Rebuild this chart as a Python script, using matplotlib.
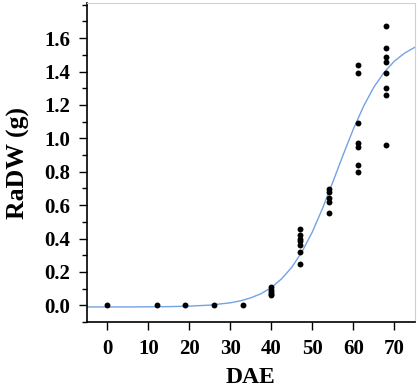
import matplotlib
matplotlib.use("Agg")
import matplotlib.pyplot as plt
from matplotlib.ticker import MultipleLocator

# Observed data (DAE, RaDW)
obs_x = [0, 12, 19, 26, 33,
         40, 40, 40, 40, 40,
         47, 47, 47, 47, 47, 47, 47,
         54, 54, 54, 54, 54,
         61, 61, 61, 61, 61, 61, 61,
         68, 68, 68, 68, 68, 68, 68, 68]
obs_y = [0.0, 0.0, 0.0, 0.0, 0.0,
         0.11, 0.09, 0.08, 0.07, 0.06,
         0.46, 0.42, 0.40, 0.385, 0.36, 0.32, 0.25,
         0.695, 0.68, 0.64, 0.62, 0.55,
         1.44, 1.39, 1.09, 0.97, 0.95, 0.84, 0.80,
         1.67, 1.54, 1.49, 1.46, 1.39, 1.30, 1.26, 0.96]

# Fitted curve
curve_x = [-5, 0, 5, 10, 15, 20, 25, 30, 32.5, 35, 37.5, 40, 42.5, 45, 47.5,
           50, 52.5, 55, 57.5, 60, 62.5, 65, 67.5, 70, 72.5, 75]
curve_y = [-0.010, -0.010, -0.010, -0.009, -0.008, -0.005, 0.001, 0.015, 0.027,
           0.045, 0.070, 0.107, 0.159, 0.229, 0.323, 0.441, 0.583, 0.740, 0.902,
           1.057, 1.194, 1.308, 1.396, 1.463, 1.511, 1.546]

x_ticks = [0, 10, 20, 30, 40, 50, 60, 70]
y_ticks = [0.0, 0.2, 0.4, 0.6, 0.8, 1.0, 1.2, 1.4, 1.6]

plt.rcParams['font.family'] = ['Liberation Serif', 'DejaVu Serif']
plt.rcParams['font.weight'] = 'bold'

fig = plt.figure(figsize=(4.2, 3.91), dpi=100)
ax = fig.add_axes([0.207, 0.1765, 0.781, 0.8155])

ax.plot(curve_x, curve_y, color='#74a2e6', linewidth=1.0, zorder=2)
ax.scatter(obs_x, obs_y, s=18, color='black', zorder=3, linewidths=0)

ax.set_xlim(-5, 75)
ax.set_ylim(-0.1, 1.81)
ax.set_xticks(x_ticks)
ax.set_yticks(y_ticks)
ax.set_yticklabels([f"{v:.1f}" for v in y_ticks])
ax.yaxis.set_minor_locator(MultipleLocator(0.1))

ax.tick_params(axis='both', which='major', direction='out', length=6, width=1,
               labelsize=15, colors='black')
ax.tick_params(axis='x', which='major', pad=6)
ax.tick_params(axis='y', which='major', pad=6)
ax.tick_params(axis='y', which='minor', direction='out', length=3.5, width=1)
for lab in ax.get_xticklabels() + ax.get_yticklabels():
    lab.set_fontweight('bold')

ax.spines['left'].set_color('black')
ax.spines['bottom'].set_color('black')
ax.spines['left'].set_linewidth(1.2)
ax.spines['bottom'].set_linewidth(1.2)
ax.spines['top'].set_color('#d0d0d0')
ax.spines['right'].set_color('#d0d0d0')

ax.set_xlabel('DAE', fontsize=17, fontweight='bold', labelpad=6)
ax.set_ylabel('RaDW (g)', fontsize=18.5, fontweight='bold', labelpad=10)

fig.savefig('out.png', dpi=100)
